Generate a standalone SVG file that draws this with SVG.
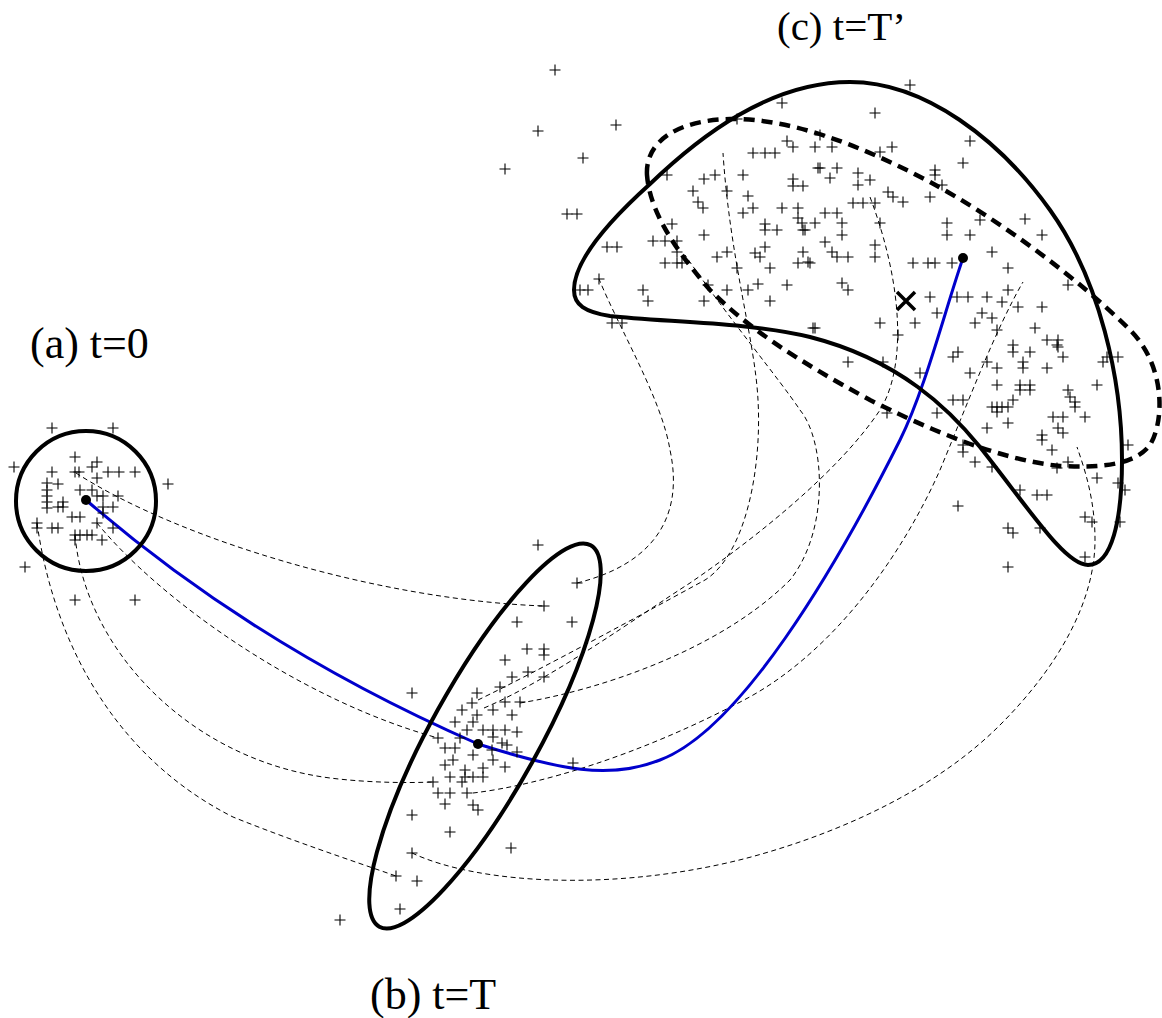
<svg xmlns="http://www.w3.org/2000/svg" xmlns:xlink="http://www.w3.org/1999/xlink" width="1162" height="1018" viewBox="0 0 1162 1018">
<style>
.lbl{font-family:"Liberation Serif","Times New Roman",serif;font-size:44px;fill:#000}
.thin{fill:none;stroke:#000;stroke-width:1;stroke-dasharray:5 3.5}
.bound{fill:none;stroke:#000;stroke-width:4}
.bdash{fill:none;stroke:#000;stroke-width:4.5;stroke-dasharray:11 7}
.traj{fill:none;stroke:#0000cc;stroke-width:3}
.pts use{stroke:#000;stroke-width:1.1}
</style>
<defs>
<path id="p" d="M-5.5 0H5.5M0-5.5V5.5" fill="none"/>
</defs>
<rect width="1162" height="1018" fill="#fff"/>

<g id="connectors">
<path class="thin" d="M76 473C180 540 380 600 544 606"/>
<path class="thin" d="M577 583C650 565 685 520 670 450C662 400 620 330 599 279"/>
<path class="thin" d="M97 523C160 600 300 700 438 738"/>
<path class="thin" d="M75 535C85 650 190 760 330 778C370 783 410 783 433 782"/>
<path class="thin" d="M37 523C55 650 120 760 233 817C290 840 350 860 396 876"/>
<path class="thin" d="M412 853C480 885 620 892 751 857C850 830 940 785 1000 725C1060 665 1095 600 1095 540C1095 500 1085 470 1077 447"/>
<path class="thin" d="M473 793C540 785 640 755 744 700C830 655 900 560 940 470C965 410 995 330 1023 282"/>
<path class="thin" d="M520 703C600 690 720 650 790 580C830 530 825 440 800 410C780 380 730 320 685 255"/>
<path class="thin" d="M478 700C540 670 650 610 705 580C745 555 762 470 758 400C755 340 730 260 723 153"/>
<path class="thin" d="M484 708C550 680 640 615 690 583C760 535 840 470 880 410C905 370 905 290 870 197"/>
<path class="traj" d="M86 500C190 590 320 675 478 744C560 770 610 780 660 760C740 730 835 570 900 440C925 390 945 310 963 258"/>
</g>

<g id="node-a">
<circle class="bound" cx="86" cy="501" r="70"/>
<circle cx="86" cy="500" r="5" fill="#000"/>
<text class="lbl" x="30" y="358">(a) t=0</text>
</g>

<g id="node-b">
<ellipse class="bound" cx="485" cy="736" rx="218" ry="54" transform="rotate(-61 485 736)"/>
<circle cx="478" cy="744" r="5" fill="#000"/>
<text class="lbl" x="370" y="1009">(b) t=T</text>
</g>

<g id="node-c">
<path class="bound" d="M574 290C574 260 610 220 650 184C700 136 770 82 850 82C925 82 1000 140 1050 210C1100 280 1122 380 1122 460C1122 520 1112 565 1088 565C1065 565 1030 510 980 447C950 410 900 360 810 337C750 322 660 322 610 316C585 312 574 305 574 290Z"/>
<path class="bdash" d="M647 175C645 140 680 120 730 119C790 118 860 145 930 182C1000 220 1080 280 1130 330C1165 365 1165 420 1150 445C1135 465 1100 468 1060 466C1000 460 930 430 870 400C800 362 750 330 710 290C680 255 650 215 647 175Z"/>
<path d="M897 292L915 310M915 292L897 310" stroke="#000" stroke-width="3.5" fill="none"/>
<circle cx="963" cy="258" r="5" fill="#000"/>
<text class="lbl" x="777" y="40" style="font-size:41px">(c) t=T’</text>
</g>

<g id="particles" class="pts">
<use href="#p" x="52" y="428"/><use href="#p" x="113" y="428"/><use href="#p" x="14" y="467"/><use href="#p" x="75" y="457"/><use href="#p" x="97" y="462"/><use href="#p" x="92" y="467"/><use href="#p" x="52" y="472"/><use href="#p" x="75" y="472"/><use href="#p" x="79" y="472"/><use href="#p" x="108" y="472"/><use href="#p" x="119" y="472"/><use href="#p" x="135" y="472"/><use href="#p" x="97" y="478"/><use href="#p" x="168" y="484"/><use href="#p" x="47" y="483"/><use href="#p" x="58" y="484"/><use href="#p" x="47" y="490"/><use href="#p" x="47" y="496"/><use href="#p" x="47" y="502"/><use href="#p" x="47" y="508"/><use href="#p" x="80" y="490"/><use href="#p" x="92" y="490"/><use href="#p" x="97" y="496"/><use href="#p" x="103" y="496"/><use href="#p" x="58" y="507"/><use href="#p" x="63" y="502"/><use href="#p" x="63" y="507"/><use href="#p" x="113" y="507"/><use href="#p" x="103" y="507"/><use href="#p" x="103" y="513"/><use href="#p" x="118" y="496"/><use href="#p" x="72" y="517"/><use href="#p" x="80" y="517"/><use href="#p" x="37" y="523"/><use href="#p" x="97" y="523"/><use href="#p" x="52" y="528"/><use href="#p" x="58" y="528"/><use href="#p" x="113" y="528"/><use href="#p" x="75" y="535"/><use href="#p" x="80" y="535"/><use href="#p" x="87" y="535"/><use href="#p" x="92" y="535"/><use href="#p" x="75" y="540"/><use href="#p" x="102" y="540"/><use href="#p" x="37" y="528"/><use href="#p" x="25" y="567"/><use href="#p" x="75" y="600"/><use href="#p" x="135" y="600"/>
<use href="#p" x="538" y="545"/><use href="#p" x="577" y="583"/><use href="#p" x="544" y="606"/><use href="#p" x="517" y="622"/><use href="#p" x="572" y="622"/><use href="#p" x="527" y="649"/><use href="#p" x="544" y="649"/><use href="#p" x="544" y="655"/><use href="#p" x="505" y="660"/><use href="#p" x="512" y="677"/><use href="#p" x="528" y="672"/><use href="#p" x="544" y="677"/><use href="#p" x="412" y="693"/><use href="#p" x="477" y="693"/><use href="#p" x="500" y="687"/><use href="#p" x="493" y="710"/><use href="#p" x="505" y="702"/><use href="#p" x="520" y="702"/><use href="#p" x="472" y="703"/><use href="#p" x="462" y="710"/><use href="#p" x="477" y="715"/><use href="#p" x="512" y="715"/><use href="#p" x="455" y="722"/><use href="#p" x="473" y="722"/><use href="#p" x="467" y="730"/><use href="#p" x="483" y="730"/><use href="#p" x="493" y="730"/><use href="#p" x="505" y="730"/><use href="#p" x="517" y="732"/><use href="#p" x="438" y="738"/><use href="#p" x="460" y="738"/><use href="#p" x="493" y="737"/><use href="#p" x="502" y="743"/><use href="#p" x="507" y="745"/><use href="#p" x="445" y="748"/><use href="#p" x="455" y="748"/><use href="#p" x="492" y="750"/><use href="#p" x="517" y="752"/><use href="#p" x="453" y="760"/><use href="#p" x="473" y="755"/><use href="#p" x="493" y="760"/><use href="#p" x="505" y="767"/><use href="#p" x="445" y="765"/><use href="#p" x="465" y="770"/><use href="#p" x="483" y="768"/><use href="#p" x="450" y="777"/><use href="#p" x="465" y="777"/><use href="#p" x="473" y="777"/><use href="#p" x="483" y="777"/><use href="#p" x="433" y="782"/><use href="#p" x="462" y="782"/><use href="#p" x="438" y="793"/><use href="#p" x="450" y="793"/><use href="#p" x="467" y="793"/><use href="#p" x="445" y="804"/><use href="#p" x="473" y="805"/><use href="#p" x="478" y="810"/><use href="#p" x="412" y="815"/><use href="#p" x="450" y="832"/><use href="#p" x="511" y="848"/><use href="#p" x="412" y="853"/><use href="#p" x="396" y="876"/><use href="#p" x="417" y="881"/><use href="#p" x="400" y="909"/><use href="#p" x="340" y="920"/><use href="#p" x="573" y="763"/>
<use href="#p" x="555" y="70"/><use href="#p" x="538" y="131"/><use href="#p" x="616" y="125"/><use href="#p" x="583" y="158"/><use href="#p" x="505" y="169"/><use href="#p" x="567" y="214"/><use href="#p" x="577" y="214"/><use href="#p" x="782" y="103"/><use href="#p" x="737" y="119"/><use href="#p" x="787" y="141"/><use href="#p" x="793" y="147"/><use href="#p" x="815" y="147"/><use href="#p" x="753" y="153"/><use href="#p" x="765" y="153"/><use href="#p" x="775" y="153"/><use href="#p" x="818" y="168"/><use href="#p" x="667" y="175"/><use href="#p" x="704" y="179"/><use href="#p" x="715" y="175"/><use href="#p" x="743" y="175"/><use href="#p" x="793" y="179"/><use href="#p" x="793" y="186"/><use href="#p" x="803" y="186"/><use href="#p" x="693" y="191"/><use href="#p" x="727" y="191"/><use href="#p" x="748" y="196"/><use href="#p" x="698" y="202"/><use href="#p" x="703" y="208"/><use href="#p" x="753" y="208"/><use href="#p" x="782" y="208"/><use href="#p" x="798" y="208"/><use href="#p" x="743" y="213"/><use href="#p" x="672" y="224"/><use href="#p" x="765" y="224"/><use href="#p" x="765" y="230"/><use href="#p" x="777" y="230"/><use href="#p" x="798" y="218"/><use href="#p" x="802" y="223"/><use href="#p" x="805" y="230"/><use href="#p" x="704" y="235"/><use href="#p" x="653" y="241"/><use href="#p" x="665" y="241"/><use href="#p" x="677" y="241"/><use href="#p" x="677" y="252"/><use href="#p" x="607" y="247"/><use href="#p" x="617" y="247"/><use href="#p" x="727" y="252"/><use href="#p" x="717" y="257"/><use href="#p" x="755" y="253"/><use href="#p" x="765" y="247"/><use href="#p" x="760" y="257"/><use href="#p" x="803" y="252"/><use href="#p" x="798" y="263"/><use href="#p" x="810" y="263"/><use href="#p" x="665" y="263"/><use href="#p" x="677" y="263"/><use href="#p" x="682" y="263"/><use href="#p" x="737" y="268"/><use href="#p" x="770" y="268"/><use href="#p" x="599" y="279"/><use href="#p" x="580" y="290"/><use href="#p" x="588" y="290"/><use href="#p" x="643" y="290"/><use href="#p" x="708" y="285"/><use href="#p" x="727" y="290"/><use href="#p" x="748" y="290"/><use href="#p" x="758" y="284"/><use href="#p" x="787" y="285"/><use href="#p" x="648" y="301"/><use href="#p" x="704" y="301"/><use href="#p" x="770" y="301"/><use href="#p" x="612" y="323"/><use href="#p" x="622" y="323"/><use href="#p" x="813" y="328"/>
<use href="#p" x="910" y="85"/><use href="#p" x="875" y="113"/><use href="#p" x="820" y="135"/><use href="#p" x="970" y="141"/><use href="#p" x="832" y="147"/><use href="#p" x="880" y="152"/><use href="#p" x="892" y="147"/><use href="#p" x="963" y="163"/><use href="#p" x="820" y="168"/><use href="#p" x="837" y="168"/><use href="#p" x="830" y="178"/><use href="#p" x="858" y="173"/><use href="#p" x="858" y="185"/><use href="#p" x="870" y="180"/><use href="#p" x="935" y="170"/><use href="#p" x="935" y="175"/><use href="#p" x="942" y="185"/><use href="#p" x="888" y="192"/><use href="#p" x="893" y="197"/><use href="#p" x="903" y="202"/><use href="#p" x="930" y="197"/><use href="#p" x="853" y="203"/><use href="#p" x="863" y="203"/><use href="#p" x="875" y="203"/><use href="#p" x="825" y="213"/><use href="#p" x="837" y="213"/><use href="#p" x="815" y="223"/><use href="#p" x="842" y="223"/><use href="#p" x="842" y="235"/><use href="#p" x="880" y="223"/><use href="#p" x="803" y="230"/><use href="#p" x="947" y="223"/><use href="#p" x="947" y="235"/><use href="#p" x="980" y="220"/><use href="#p" x="970" y="235"/><use href="#p" x="1025" y="219"/><use href="#p" x="1042" y="235"/><use href="#p" x="825" y="242"/><use href="#p" x="832" y="252"/><use href="#p" x="837" y="257"/><use href="#p" x="848" y="257"/><use href="#p" x="875" y="245"/><use href="#p" x="875" y="257"/><use href="#p" x="808" y="262"/><use href="#p" x="913" y="263"/><use href="#p" x="928" y="263"/><use href="#p" x="935" y="263"/><use href="#p" x="952" y="263"/><use href="#p" x="992" y="252"/><use href="#p" x="1008" y="268"/><use href="#p" x="1068" y="285"/><use href="#p" x="842" y="283"/><use href="#p" x="848" y="290"/><use href="#p" x="930" y="297"/><use href="#p" x="957" y="297"/><use href="#p" x="968" y="297"/><use href="#p" x="987" y="297"/><use href="#p" x="1008" y="290"/><use href="#p" x="1002" y="302"/><use href="#p" x="1018" y="307"/><use href="#p" x="1042" y="307"/><use href="#p" x="937" y="313"/><use href="#p" x="982" y="313"/><use href="#p" x="992" y="318"/><use href="#p" x="975" y="323"/><use href="#p" x="880" y="323"/><use href="#p" x="915" y="323"/><use href="#p" x="1035" y="328"/><use href="#p" x="815" y="328"/><use href="#p" x="898" y="335"/><use href="#p" x="1047" y="340"/><use href="#p" x="1058" y="340"/><use href="#p" x="1058" y="347"/><use href="#p" x="1013" y="345"/><use href="#p" x="1013" y="352"/><use href="#p" x="1030" y="352"/><use href="#p" x="1063" y="357"/><use href="#p" x="958" y="352"/><use href="#p" x="953" y="357"/><use href="#p" x="1107" y="357"/><use href="#p" x="1118" y="357"/>
<use href="#p" x="997" y="330"/><use href="#p" x="848" y="362"/><use href="#p" x="883" y="362"/><use href="#p" x="920" y="373"/><use href="#p" x="937" y="413"/><use href="#p" x="887" y="413"/><use href="#p" x="1057" y="345"/><use href="#p" x="987" y="362"/><use href="#p" x="997" y="368"/><use href="#p" x="970" y="373"/><use href="#p" x="1023" y="362"/><use href="#p" x="1023" y="368"/><use href="#p" x="1047" y="368"/><use href="#p" x="1103" y="362"/><use href="#p" x="997" y="385"/><use href="#p" x="1020" y="385"/><use href="#p" x="1030" y="385"/><use href="#p" x="1020" y="390"/><use href="#p" x="1030" y="390"/><use href="#p" x="1097" y="385"/><use href="#p" x="1068" y="390"/><use href="#p" x="1070" y="397"/><use href="#p" x="1075" y="402"/><use href="#p" x="1075" y="407"/><use href="#p" x="953" y="400"/><use href="#p" x="963" y="400"/><use href="#p" x="992" y="407"/><use href="#p" x="997" y="407"/><use href="#p" x="1002" y="407"/><use href="#p" x="1013" y="400"/><use href="#p" x="1008" y="407"/><use href="#p" x="997" y="412"/><use href="#p" x="1008" y="423"/><use href="#p" x="1053" y="417"/><use href="#p" x="1063" y="417"/><use href="#p" x="1085" y="417"/><use href="#p" x="987" y="428"/><use href="#p" x="1058" y="428"/><use href="#p" x="1063" y="433"/><use href="#p" x="1042" y="435"/><use href="#p" x="1042" y="440"/><use href="#p" x="1052" y="450"/><use href="#p" x="963" y="445"/><use href="#p" x="963" y="452"/><use href="#p" x="975" y="462"/><use href="#p" x="992" y="467"/><use href="#p" x="1068" y="462"/><use href="#p" x="1057" y="468"/><use href="#p" x="1128" y="445"/><use href="#p" x="1097" y="478"/><use href="#p" x="1118" y="483"/><use href="#p" x="1125" y="490"/><use href="#p" x="958" y="506"/><use href="#p" x="1020" y="490"/><use href="#p" x="1037" y="495"/><use href="#p" x="1047" y="495"/><use href="#p" x="1085" y="517"/><use href="#p" x="1092" y="522"/><use href="#p" x="1120" y="522"/><use href="#p" x="1008" y="528"/><use href="#p" x="1013" y="533"/><use href="#p" x="1040" y="528"/><use href="#p" x="1085" y="557"/><use href="#p" x="1008" y="567"/>
</g>
</svg>
